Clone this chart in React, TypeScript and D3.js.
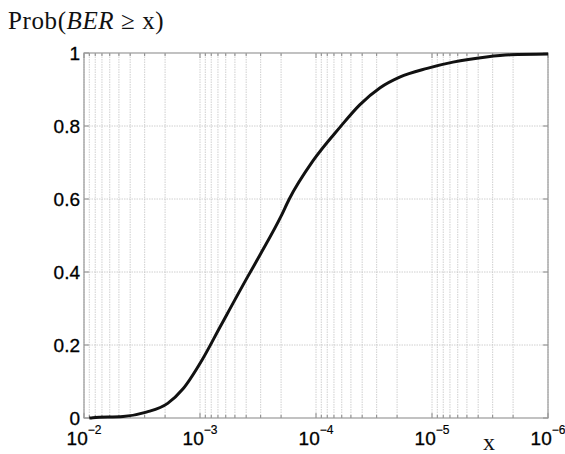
import React, { useEffect, useRef } from "react";
import * as d3 from "d3";

// BER threshold x (log scale, reversed) and Prob(BER >= x)
const berValues = [
  9e-3, 8.4e-3, 4.6e-3, 2.9e-3, 1.9e-3, 1.4e-3, 9.6e-4, 6.7e-4, 3.9e-4, 3.0e-4,
  2.0e-4, 1.7e-4, 1.06e-4, 6.2e-5, 4.2e-5, 2.8e-5, 1.9e-5, 1.1e-5, 6.6e-6,
  3.4e-6, 2.1e-6, 1.0e-6,
];
const probValues = [
  0, 0.001, 0.004, 0.016, 0.04, 0.08, 0.159, 0.25, 0.386, 0.45, 0.553, 0.6,
  0.705, 0.797, 0.858, 0.905, 0.934, 0.958, 0.975, 0.989, 0.995, 0.997,
];
const yTicks = [0, 0.2, 0.4, 0.6, 0.8, 1];
const yTickLabels = ["0", "0.2", "0.4", "0.6", "0.8", "1"];
const xDecades = [-2, -3, -4, -5, -6];

const W = 565;
const H = 454;
const margin = { left: 84, right: 17, top: 53, bottom: 36 };

const App: React.FC = () => {
  const ref = useRef<SVGSVGElement | null>(null);

  useEffect(() => {
    if (!ref.current) return;
    const svg = d3.select(ref.current);
    svg.selectAll("*").remove();

    const x = d3
      .scaleLog()
      .domain([1e-2, 1e-6])
      .range([margin.left, W - margin.right]);
    const y = d3
      .scaleLinear()
      .domain([0, 1])
      .range([H - margin.bottom, margin.top]);

    const [x0, x1] = x.range();
    const [y0, y1] = y.range();

    const grid = svg.append("g");
    const xt = x.ticks();
    grid
      .selectAll("line.vx")
      .data(xt)
      .enter()
      .append("line")
      .attr("x1", (d) => x(d))
      .attr("x2", (d) => x(d))
      .attr("y1", y0)
      .attr("y2", y1)
      .attr("stroke", "#c4c4c4")
      .attr("stroke-width", 0.8)
      .attr("stroke-dasharray", "1.5,1");
    grid
      .selectAll("line.hy")
      .data(yTicks.slice(1, -1))
      .enter()
      .append("line")
      .attr("x1", x0)
      .attr("x2", x1)
      .attr("y1", (d) => y(d))
      .attr("y2", (d) => y(d))
      .attr("stroke", "#c4c4c4")
      .attr("stroke-width", 0.8)
      .attr("stroke-dasharray", "1.5,1");

    // tick marks inside the frame
    const tk = svg.append("g").attr("stroke", "#888").attr("stroke-width", 1);
    xt.forEach((d) => {
      const major = Math.abs(Math.log10(d) - Math.round(Math.log10(d))) < 1e-6;
      const len = major ? 5 : 3;
      tk.append("line").attr("x1", x(d)).attr("x2", x(d)).attr("y1", y0).attr("y2", y0 - len);
      tk.append("line").attr("x1", x(d)).attr("x2", x(d)).attr("y1", y1).attr("y2", y1 + len);
    });
    yTicks.forEach((d) => {
      tk.append("line").attr("x1", x0).attr("x2", x0 + 5).attr("y1", y(d)).attr("y2", y(d));
      tk.append("line").attr("x1", x1).attr("x2", x1 - 5).attr("y1", y(d)).attr("y2", y(d));
    });

    svg
      .append("rect")
      .attr("x", x0)
      .attr("y", y1)
      .attr("width", x1 - x0)
      .attr("height", y0 - y1)
      .attr("fill", "none")
      .attr("stroke", "#999")
      .attr("stroke-width", 1.2);

    // y labels
    svg
      .selectAll("text.yl")
      .data(yTicks)
      .enter()
      .append("text")
      .attr("x", x0 - 4)
      .attr("y", (d) => y(d) + 6.5)
      .attr("text-anchor", "end")
      .attr("font-family", "Liberation Sans, Arial, sans-serif")
      .attr("font-size", 19)
      .attr("fill", "#000")
      .attr("stroke", "#000")
      .attr("stroke-width", 0.3)
      .text((d, i) => yTickLabels[i]);

    // x labels 10^n
    const xl = svg
      .selectAll("text.xl")
      .data(xDecades)
      .enter()
      .append("text")
      .attr("x", (d) => x(Math.pow(10, d)))
      .attr("y", y0 + 27)
      .attr("text-anchor", "middle")
      .attr("font-family", "Liberation Sans, Arial, sans-serif")
      .attr("font-size", 19)
      .attr("fill", "#000")
      .attr("stroke", "#000")
      .attr("stroke-width", 0.3);
    xl.append("tspan").text("10");
    xl.append("tspan")
      .attr("dy", -11)
      .attr("font-size", 12)
      .attr("stroke-width", 0.2)
      .text((d) => `\u2212${Math.abs(d)}`);

    // curve
    const pts = berValues.map((b, i) => [x(b), y(probValues[i])] as [number, number]);
    pts.sort((a, b) => a[0] - b[0]);
    svg
      .append("path")
      .attr("d", d3.line().curve(d3.curveMonotoneX)(pts) as string)
      .attr("fill", "none")
      .attr("stroke", "#111")
      .attr("stroke-width", 3)
      .attr("stroke-linejoin", "round");

    // title and x label
    const t = svg
      .append("text")
      .attr("x", 8)
      .attr("y", 29)
      .attr("font-family", "Liberation Serif, Times New Roman, serif")
      .attr("font-size", 25)
      .attr("letter-spacing", 0.6)
      .attr("fill", "#111");
    t.append("tspan").text("Prob(");
    t.append("tspan").attr("font-style", "italic").text("BER");
    t.append("tspan").text(" \u2265 x)");

    svg
      .append("text")
      .attr("x", 489)
      .attr("y", 450)
      .attr("text-anchor", "middle")
      .attr("font-family", "Liberation Serif, Times New Roman, serif")
      .attr("font-size", 24)
      .attr("fill", "#111")
      .text("x");
  }, []);

  return (
    <svg
      ref={ref}
      width={W}
      height={H}
      style={{ position: "absolute", left: 0, top: 0, background: "#fff" }}
    />
  );
};

export default App;
